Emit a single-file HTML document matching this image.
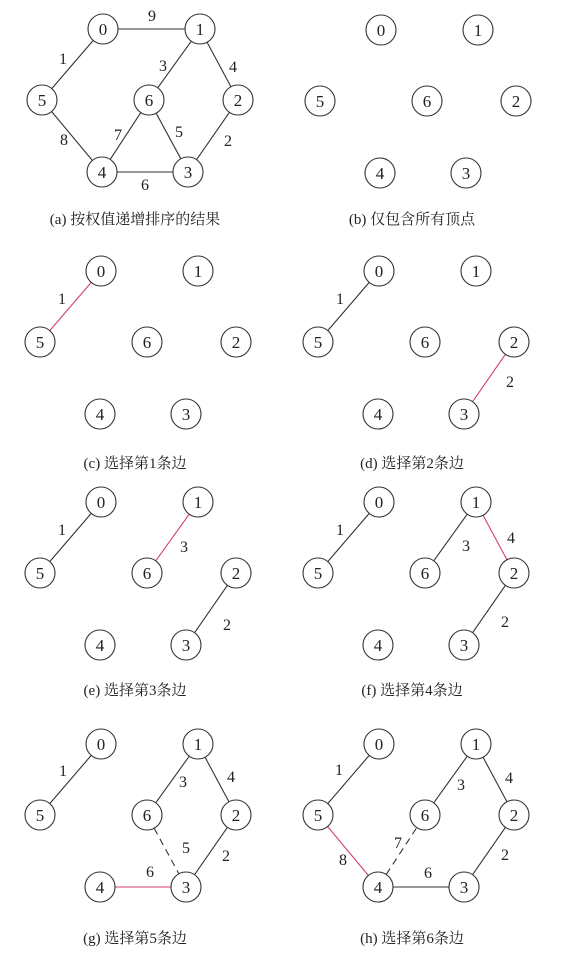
<!DOCTYPE html>
<html><head><meta charset="utf-8"><style>
html,body{margin:0;padding:0;background:#fff}
svg{display:block}
text{font-family:"Liberation Serif","Noto Serif CJK SC",serif;fill:#222}
</style></head><body>
<svg id="s" width="562" height="956" viewBox="0 0 562 956"></svg>
<script>
const nodeIds=[0,1,2,3,4,5,6];
const nodePos={0:[103,29],1:[200,29],2:[238,100],3:[188,172],4:[102,172],5:[42,100],6:[149,100]};
const edges=[[0,1,9],[0,5,1],[1,6,3],[1,2,4],[4,6,7],[6,3,5],[5,4,8],[2,3,2],[4,3,6]];
const labelPos={"0-1":[152,16],"0-5":[63,59],"1-6":[163,66],"1-2":[233,67],"4-6":[118,135],"6-3":[179,132],"5-4":[64,140],"2-3":[228,141],"4-3":[145,185]};
const panels=[
 {name:"a",off:[0,0],cap:"(a) 按权值递增排序的结果",cx:135,cy:224,lo:{},e:[["0-1","s"],["0-5","s"],["1-6","s"],["1-2","s"],["4-6","s"],["6-3","s"],["5-4","s"],["2-3","s"],["4-3","s"]]},
 {name:"b",off:[278,1],cap:"(b) 仅包含所有顶点",cx:412,cy:224,lo:{},e:[]},
 {name:"c",off:[-2,242],cap:"(c) 选择第1条边",cx:135,cy:468,lo:{"0-5":[64,57]},e:[["0-5","r"]]},
 {name:"d",off:[276,242],cap:"(d) 选择第2条边",cx:412,cy:468,lo:{"0-5":[64,57],"2-3":[234,140]},e:[["0-5","s"],["2-3","r"]]},
 {name:"e",off:[-2,473],cap:"(e) 选择第3条边",cx:135,cy:695,lo:{"0-5":[64,57],"2-3":[229,152],"1-6":[186,74]},e:[["0-5","s"],["2-3","s"],["1-6","r"]]},
 {name:"f",off:[276,473],cap:"(f) 选择第4条边",cx:412,cy:695,lo:{"0-5":[64,57],"2-3":[229,149],"1-6":[190,73],"1-2":[235,65]},e:[["0-5","s"],["2-3","s"],["1-6","s"],["1-2","r"]]},
 {name:"g",off:[-2,715],cap:"(g) 选择第5条边",cx:135,cy:943,lo:{"0-5":[65,56],"2-3":[228,141],"1-6":[185,67],"1-2":[233,62],"6-3":[188,133],"4-3":[152,157]},e:[["0-5","s"],["2-3","s"],["1-6","s"],["1-2","s"],["6-3","d"],["4-3","r"]]},
 {name:"h",off:[276,715],cap:"(h) 选择第6条边",cx:412,cy:943,lo:{"0-5":[63,55],"2-3":[229,140],"1-6":[185,70],"1-2":[233,63],"4-6":[122,128],"5-4":[67,145],"4-3":[152,158]},e:[["0-5","s"],["2-3","s"],["1-6","s"],["1-2","s"],["4-6","d"],["4-3","s"],["5-4","r"]]}
];
const NS="http://www.w3.org/2000/svg",svg=document.getElementById('s'),R=15;
function mk(t,a,p){const e=document.createElementNS(NS,t);for(const k in a)e.setAttribute(k,a[k]);p.appendChild(e);return e;}
const wOf={};edges.forEach(e=>{wOf[e[0]+"-"+e[1]]=e[2];});
panels.forEach(p=>{
 const g=mk('g',{transform:`translate(${p.off[0]},${p.off[1]})`},svg);
 
 
 p.e.forEach(([k,st])=>{
  const [a,b]=k.split('-').map(Number);const A=nodePos[a],B=nodePos[b];
  const dx=B[0]-A[0],dy=B[1]-A[1],L=Math.hypot(dx,dy),ux=dx/L,uy=dy/L;
  const ln=mk('line',{x1:A[0]+ux*R,y1:A[1]+uy*R,x2:B[0]-ux*R,y2:B[1]-uy*R,stroke:st==='r'?'#d43c7c':'#333','stroke-width':1.1},g);
  if(st==='d')ln.setAttribute('stroke-dasharray','7,5');
  
  
  const lp=p.lo[k]||labelPos[k];
  const t=mk('text',{x:lp[0],y:lp[1]+5,'text-anchor':'middle','font-size':16},g);t.textContent=wOf[k];
  
  
 });
 nodeIds.forEach(n=>{
  const P=nodePos[n];
  const c=mk('circle',{cx:P[0],cy:P[1],r:R,fill:'#fff',stroke:'#333','stroke-width':1.1},g);
  
  
  const t=mk('text',{x:P[0],y:P[1]+6,'text-anchor':'middle','font-size':17},g);t.textContent=n;
  
  
 });
 const c=mk('text',{x:p.cx,y:p.cy,'text-anchor':'middle','font-size':15},svg);c.textContent=p.cap;
 
 
});
</script>
</body></html>
